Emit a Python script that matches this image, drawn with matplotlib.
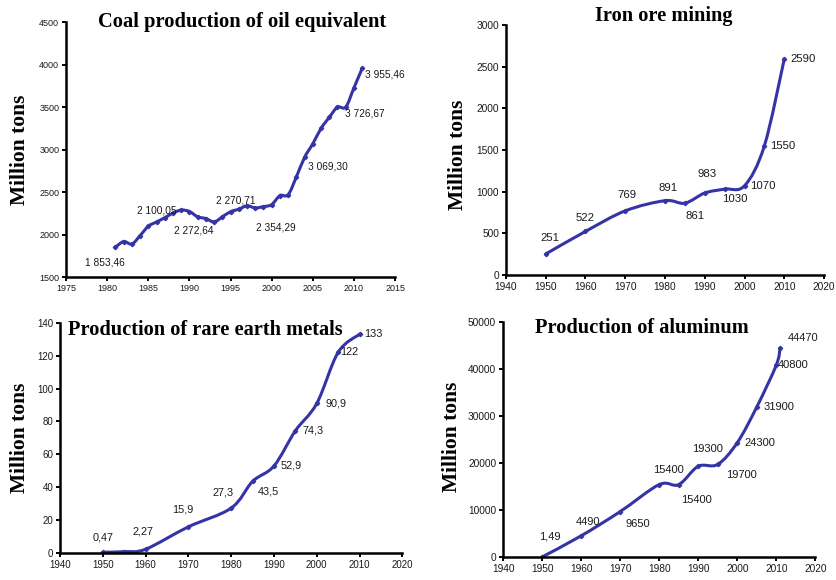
import numpy as np
import matplotlib.pyplot as plt
from matplotlib.path import Path
from matplotlib.patches import PathPatch

# --- data ---------------------------------------------------------------
coal_years = list(range(1981, 2012))
coal_values = [1853.46, 1920, 1890, 1990, 2100.05, 2150, 2200, 2255, 2290, 2272.64,
               2210, 2190, 2150, 2210, 2270.71, 2300, 2340, 2315, 2330, 2354.29,
               2460, 2470, 2680, 2910, 3069.30, 3250, 3380, 3500, 3500, 3726.67,
               3955.46]
coal_labeled = [1981, 1985, 1990, 1995, 2000, 2005, 2010, 2011]

iron_years = [1950, 1960, 1970, 1980, 1985, 1990, 1995, 2000, 2005, 2010]
iron_values = [251, 522, 769, 891, 861, 983, 1030, 1070, 1550, 2590]

rare_years = [1950, 1955, 1960, 1970, 1980, 1985, 1990, 1995, 2000, 2005, 2010]
rare_values = [0.47, 0.8, 2.27, 15.9, 27.3, 43.5, 52.9, 74.3, 90.9, 122, 133]
rare_labeled = [1950, 1960, 1970, 1980, 1985, 1990, 1995, 2000, 2005, 2010]

alu_years = [1950, 1960, 1970, 1980, 1985, 1990, 1995, 2000, 2005, 2010, 2011]
alu_values = [1.49, 4490, 9650, 15400, 15400, 19300, 19700, 24300, 31900, 40800, 44470]

LINE = '#3434a6'
TXT = '#1a1a1a'
plt.rcParams['font.family'] = ['Liberation Sans', 'DejaVu Sans']

fig = plt.figure(figsize=(8.37, 5.8), dpi=100)


def smooth_line(ax, xs, ys):
    # Excel-style smoothed line: cubic Bezier segments (Catmull-Rom control points)
    pts = np.column_stack([xs, ys]).astype(float)
    n = len(pts)
    verts = [pts[0]]
    codes = [Path.MOVETO]
    for i in range(n - 1):
        p0 = pts[i - 1] if i > 0 else pts[i]
        p1, p2 = pts[i], pts[i + 1]
        p3 = pts[i + 2] if i + 2 < n else pts[i + 1]
        c1 = p1 + (p2 - p0) / 6.0
        c2 = p2 - (p3 - p1) / 6.0
        verts += [c1, c2, p2]
        codes += [Path.CURVE4] * 3
    ax.add_patch(PathPatch(Path(verts, codes), fill=False, edgecolor=LINE,
                           lw=2.2, capstyle='round', joinstyle='round'))
    ax.plot(xs, ys, ls='none', marker='D', ms=2.2, color=LINE)


def style_axes(ax, xlim, xticks, ylim, yticks, fs):
    ax.set_xlim(*xlim)
    ax.set_ylim(*ylim)
    ax.set_xticks(xticks)
    ax.set_yticks(yticks)
    for s in ('top', 'right'):
        ax.spines[s].set_visible(False)
    for s in ('left', 'bottom'):
        ax.spines[s].set_linewidth(1.8)
        ax.spines[s].set_color('black')
    ax.tick_params(direction='out', length=3, width=1.4, labelsize=fs,
                   colors='black', labelcolor=TXT, pad=2)
    ax.patch.set_alpha(0)


def label(ax, x, y, text, dx, dy, fs):
    ax.annotate(text, (x, y), xytext=(dx, dy), textcoords='offset pixels',
                ha='center', va='center', fontsize=fs, color=TXT)


def coal_fmt(v):
    return f"{v:,.2f}".replace(',', ' ').replace('.', ',')


def comma_fmt(v):
    return f"{v:g}".replace('.', ',')


title_kw = dict(family='Liberation Serif', fontweight='bold', color='black')

# --- coal ---------------------------------------------------------------
ax1 = fig.add_axes([0.079, 0.522, 0.393, 0.440])
style_axes(ax1, (1975, 2015), range(1975, 2016, 5), (1500, 4500),
           range(1500, 4501, 500), 6.5)
smooth_line(ax1, coal_years, coal_values)
coal_offsets = [(-11, -15), (8, 16), (4, -19), (5, 11), (4, -23), (15, -23),
                (11, -26), (23, -6)]
for yr, (dx, dy) in zip(coal_labeled, coal_offsets):
    v = coal_values[coal_years.index(yr)]
    label(ax1, yr, v, coal_fmt(v), dx, dy, 7.3)

# --- iron ---------------------------------------------------------------
ax2 = fig.add_axes([0.6045, 0.526, 0.380, 0.431])
style_axes(ax2, (1940, 2020), range(1940, 2021, 10), (0, 3000),
           range(0, 3001, 500), 7.3)
smooth_line(ax2, iron_years, iron_values)
iron_offsets = [(4, 16), (0, 13), (2, 16), (3, 13), (10, -13), (2, 19),
                (10, -10), (18, 0), (18, 0), (19, 0)]
for yr, v, (dx, dy) in zip(iron_years, iron_values, iron_offsets):
    label(ax2, yr, v, comma_fmt(v), dx, dy, 8.2)

# --- rare earth ---------------------------------------------------------
ax3 = fig.add_axes([0.0717, 0.0466, 0.409, 0.397])
style_axes(ax3, (1940, 2020), range(1940, 2021, 10), (0, 140),
           range(0, 141, 20), 7.0)
smooth_line(ax3, rare_years, rare_values)
rare_offsets = [(0, 15), (-3, 18), (-6, 17), (-8, 16), (16, -10), (17, 0),
                (18, 0), (19, 0), (11, 0), (14, 0)]
for yr, (dx, dy) in zip(rare_labeled, rare_offsets):
    v = rare_values[rare_years.index(yr)]
    label(ax3, yr, v, comma_fmt(v), dx, dy, 7.8)

# --- aluminum -----------------------------------------------------------
ax4 = fig.add_axes([0.601, 0.0397, 0.373, 0.405])
style_axes(ax4, (1940, 2020), range(1940, 2021, 10), (0, 50000),
           range(0, 50001, 10000), 7.3)
smooth_line(ax4, alu_years, alu_values)
alu_offsets = [(8, 20), (7, 14), (18, -12), (9, 15), (18, -15), (9, 17),
               (24, -11), (23, 0), (22, 0), (17, 0), (23, 10)]
for yr, v, (dx, dy) in zip(alu_years, alu_values, alu_offsets):
    label(ax4, yr, v, comma_fmt(v), dx, dy, 8.0)

# --- titles and axis labels ---------------------------------------------
fig.text(242 / 837, 1 - 22 / 580, 'Coal production of oil equivalent',
         ha='center', va='center', fontsize=14.8, **title_kw)
fig.text(664 / 837, 1 - 16 / 580, 'Iron ore mining',
         ha='center', va='center', fontsize=14.7, **title_kw)
fig.text(68 / 837, 1 - 330 / 580, 'Production of rare earth metals',
         ha='left', va='center', fontsize=14.7, **title_kw)
fig.text(642 / 837, 1 - 328 / 580, 'Production of aluminum',
         ha='center', va='center', fontsize=14.7, **title_kw)

for x, y in [(20, 150), (458, 155), (20, 438), (452, 437)]:
    fig.text(x / 837, 1 - y / 580, 'Million tons', rotation=90,
             ha='center', va='center', fontsize=15.5, **title_kw)

fig.savefig('out.png', dpi=100)
